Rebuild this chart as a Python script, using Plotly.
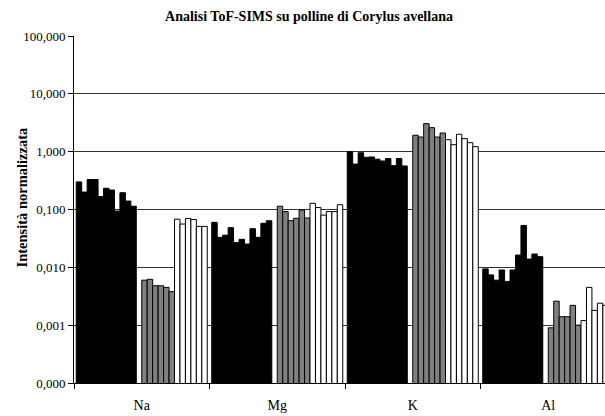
import plotly.graph_objects as go

# Elements measured by ToF-SIMS
elements = ["Na", "Mg", "K", "Al"]

# Normalized intensities, first sample set (11 samples, black bars)
na_black = [0.30, 0.20, 0.33, 0.33, 0.167, 0.233, 0.217, 0.094, 0.195, 0.140, 0.114]
mg_black = [0.060, 0.033, 0.036, 0.0485, 0.0267, 0.0305, 0.0253, 0.0466, 0.033, 0.0577, 0.064]
k_black = [1.00, 0.61, 0.96, 0.80, 0.81, 0.74, 0.69, 0.76, 0.573, 0.76, 0.566]
al_black = [0.0094, 0.0074, 0.0060, 0.0090, 0.0057, 0.0090, 0.0163, 0.053, 0.0139, 0.0170, 0.0153]

# Second sample set (6 samples, grey bars)
na_gray = [0.0060, 0.0062, 0.0048, 0.0048, 0.0045, 0.0038]
mg_gray = [0.114, 0.092, 0.064, 0.0705, 0.098, 0.0713]
k_gray = [1.92, 1.79, 3.05, 2.60, 1.79, 2.10]
al_gray = [0.0009, 0.0026, 0.0014, 0.0014, 0.0022, 0.0010]

# Third sample set (6 samples, white bars)
na_white = [0.068, 0.056, 0.070, 0.067, 0.051, 0.051]
mg_white = [0.128, 0.108, 0.080, 0.092, 0.092, 0.121]
k_white = [1.61, 1.32, 2.00, 1.68, 1.43, 1.22]
al_white = [0.0012, 0.0045, 0.0018, 0.0024, 0.0022, 0.0022]

tick_vals = [0.0001, 0.001, 0.01, 0.1, 1, 10, 100]
tick_text = ["0,000", "0,001", "0,010", "0,100", "1,000", "10,000", "100,000"]

FONT = "Liberation Serif, Times New Roman, serif"

fig = go.Figure()


def add_set(series, fill):
    na, mg, k, al = series
    for i in range(len(na)):
        fig.add_trace(go.Bar(
            x=elements,
            y=[na[i], mg[i], k[i], al[i]],
            marker=dict(color=fill, line=dict(color="#000000", width=1)),
            showlegend=False,
            hoverinfo="x+y",
        ))


add_set((na_black, mg_black, k_black, al_black), "#000000")
# empty slot separating the first set from the others
fig.add_trace(go.Bar(x=elements, y=[None] * len(elements), showlegend=False,
                     hoverinfo="skip"))
add_set((na_gray, mg_gray, k_gray, al_gray), "#808080")
add_set((na_white, mg_white, k_white, al_white), "#ffffff")

fig.update_layout(
    width=605,
    height=416,
    margin=dict(l=74, r=0, t=36, b=33),
    paper_bgcolor="white",
    plot_bgcolor="white",
    barmode="group",
    bargap=0.033,
    bargroupgap=0,
    font=dict(family=FONT, size=13, color="#000000"),
    title=dict(
        text="<b>Analisi ToF-SIMS su polline di Corylus avellana</b>",
        font=dict(family=FONT, size=14, color="#000000"),
        x=309 / 605, xanchor="center", xref="container",
        y=1 - 16 / 416, yanchor="middle", yref="container",
    ),
    xaxis=dict(
        type="category",
        range=[-0.5, -0.5 + 531 / 135.5],
        tickson="boundaries",
        ticks="outside",
        ticklen=5,
        tickcolor="#000000",
        showline=True,
        linecolor="#000000",
        linewidth=1,
        showgrid=False,
        tickfont=dict(family=FONT, size=14),
        ticklabelstandoff=9,
    ),
    yaxis=dict(
        type="log",
        range=[-4, 2],
        tickvals=tick_vals,
        ticktext=tick_text,
        ticks="outside",
        ticklen=5,
        tickcolor="#000000",
        showline=True,
        linecolor="#000000",
        linewidth=1,
        showgrid=True,
        gridcolor="#333333",
        gridwidth=1.3,
        tickfont=dict(family=FONT, size=13),
    ),
    annotations=[dict(
        text="<b>Intensità normalizzata</b>",
        textangle=-90,
        xref="paper", yref="paper",
        x=(22 - 74) / 531, y=(383 - 197.5) / 347,
        xanchor="center", yanchor="middle",
        showarrow=False,
        font=dict(family=FONT, size=14.5, color="#000000"),
    )],
)

fig.write_html("out.html")
